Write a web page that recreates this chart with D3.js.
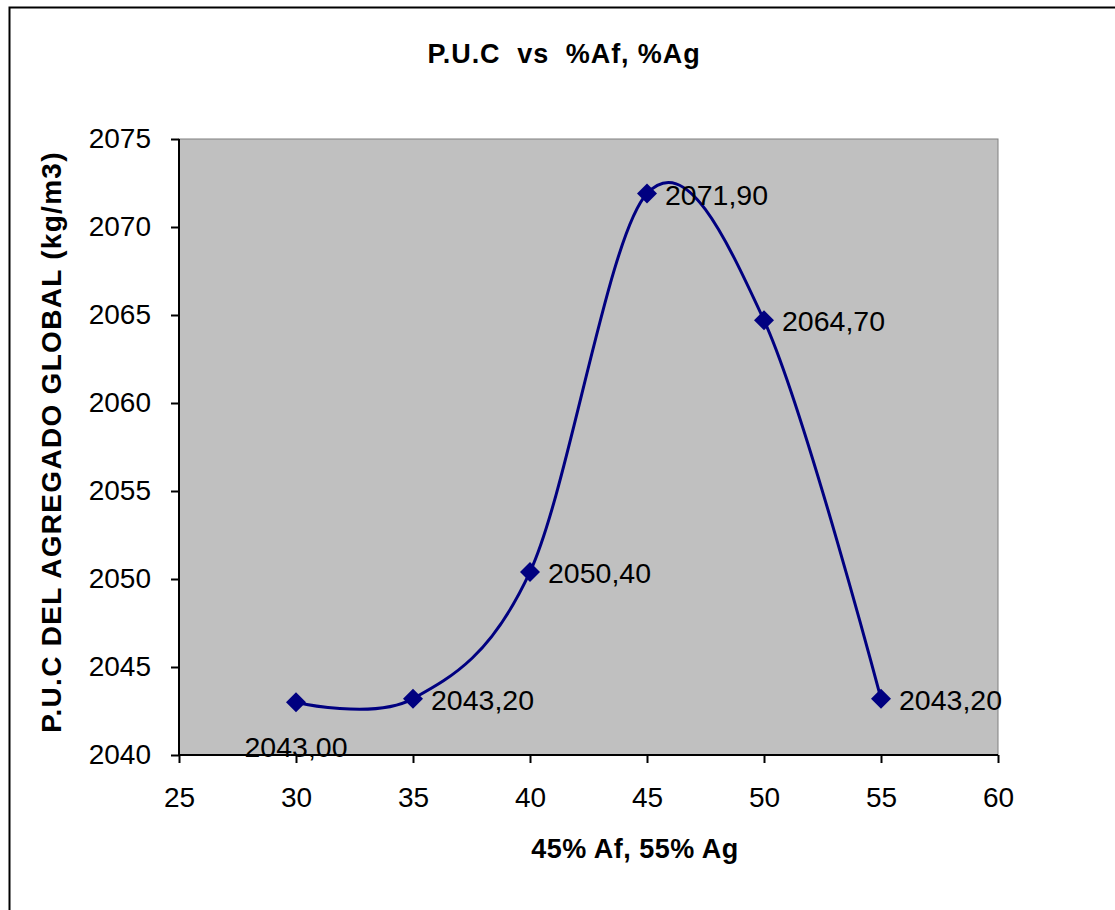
<!DOCTYPE html>
<html><head><meta charset="utf-8">
<script src="https://cdn.jsdelivr.net/npm/d3@7"></script>
<style>body{margin:0;background:#fff;} text{font-family:"Liberation Sans",Arial,sans-serif;}</style>
</head><body>
<svg id="c" width="1115" height="910"></svg>
<script>
const xValues = [30, 35, 40, 45, 50, 55];
const yValues = [2043.0, 2043.2, 2050.4, 2071.9, 2064.7, 2043.2];
const pointLabels = ["2043,00", "2043,20", "2050,40", "2071,90", "2064,70", "2043,20"];
const xTicks = [25, 30, 35, 40, 45, 50, 55, 60];
const yTicks = [2040, 2045, 2050, 2055, 2060, 2065, 2070, 2075];
const title = "P.U.C  vs  %Af, %Ag";
const xTitle = "45% Af, 55% Ag";
const yTitle = "P.U.C DEL AGREGADO GLOBAL (kg/m3)";

const svg = d3.select("#c");
const L = 179, R = 998, T = 139, B = 755;
svg.append("rect").attr("x", 9.5).attr("y", 7.5).attr("width", 1200).attr("height", 1000)
  .attr("fill", "#fff").attr("stroke", "#000").attr("stroke-width", 2);

const x = d3.scaleLinear().domain([25, 60]).range([L, R]);
const y = d3.scaleLinear().domain([2040, 2075]).range([B, T]);

svg.append("rect").attr("x", L).attr("y", T).attr("width", R - L).attr("height", B - T)
  .attr("fill", "#c0c0c0").attr("stroke", "#808080").attr("stroke-width", 1);

const xa = svg.append("g").attr("transform", `translate(0,${B})`)
  .call(d3.axisBottom(x).tickValues(xTicks).tickSize(8).tickPadding(24).tickFormat(d3.format("d")));
const ya = svg.append("g").attr("transform", `translate(${L},0)`)
  .call(d3.axisLeft(y).tickValues(yTicks).tickSize(8).tickPadding(20).tickFormat(d3.format("d")));
[xa, ya].forEach(a => {
  a.select(".domain").attr("stroke", "#000").attr("stroke-width", 2);
  a.selectAll(".tick line").attr("stroke", "#000").attr("stroke-width", 2);
  a.selectAll(".tick text").attr("fill", "#000").style("font-size", "28px").style("font-family", "'Liberation Sans',Arial,sans-serif");
});
xa.select(".domain").attr("d", `M${L},0H${R}`);
ya.select(".domain").attr("d", `M0,${B}V${T}`);

const data = xValues.map((v, i) => ({x: v, y: yValues[i], label: pointLabels[i]}));
const line = d3.line().x(d => x(d.x)).y(d => y(d.y)).curve(d3.curveCatmullRom.alpha(0));
svg.append("path").datum(data).attr("d", line).attr("fill", "none")
  .attr("stroke", "#000080").attr("stroke-width", 3);

svg.selectAll(".mk").data(data).enter().append("path")
  .attr("transform", d => `translate(${x(d.x)},${y(d.y)})`)
  .attr("d", "M0,-10L10,0L0,10L-10,0Z").attr("fill", "#000080");

svg.selectAll(".lb").data(data).enter().append("text")
  .attr("x", (d, i) => i === 0 ? x(d.x) : x(d.x) + 18)
  .attr("y", (d, i) => i === 0 ? y(d.y) + 55 : y(d.y) + 11)
  .attr("text-anchor", (d, i) => i === 0 ? "middle" : "start")
  .style("font-size", "28.5px").attr("fill", "#000").text(d => d.label);

svg.append("text").attr("x", 564).attr("y", 63).attr("text-anchor", "middle")
  .style("white-space", "pre").attr("xml:space", "preserve")
  .style("font-size", "27px").style("font-weight", "bold").style("letter-spacing", "0.9px").text(title);
svg.append("text").attr("x", 635).attr("y", 858).attr("text-anchor", "middle")
  .style("font-size", "27px").style("font-weight", "bold").style("letter-spacing", "0.5px").text(xTitle);
svg.append("text").attr("transform", "translate(61,442) rotate(-90)").attr("text-anchor", "middle")
  .style("font-size", "28px").style("font-weight", "bold").style("letter-spacing", "1.3px").text(yTitle);
</script>
</body></html>
